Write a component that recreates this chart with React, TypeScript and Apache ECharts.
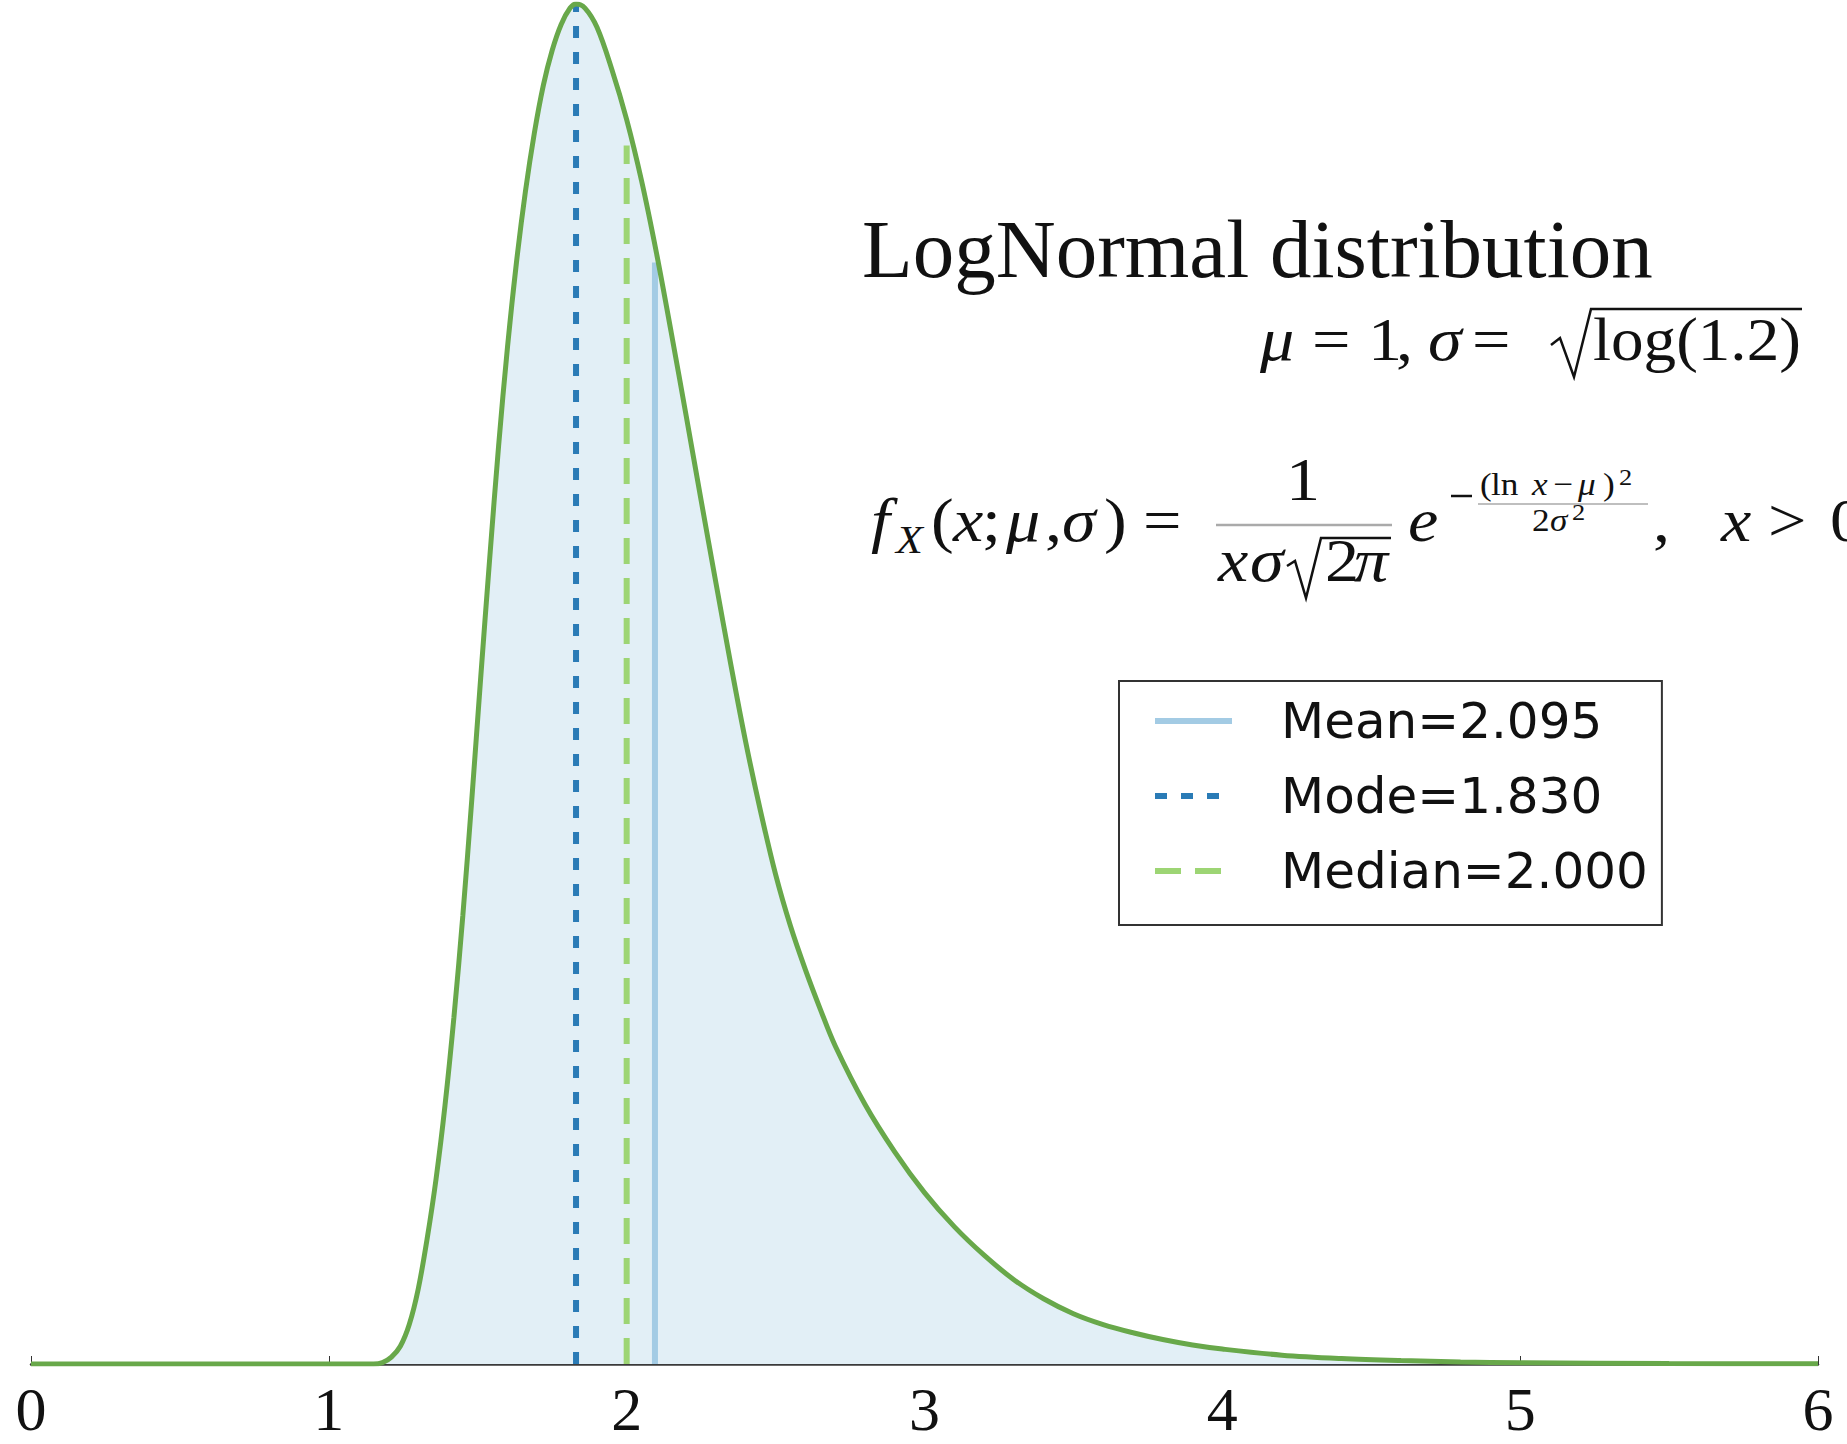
import React, { useEffect, useRef } from "react";
import * as echarts from "echarts";

// Density curve (relative height, peak = 1)
const densityX = [
  0, 0.5, 1.0, 1.1, 1.15, 1.18, 1.21, 1.24, 1.27, 1.3, 1.33, 1.36, 1.39, 1.42, 1.45, 1.48, 1.51,
  1.54, 1.57, 1.6, 1.63, 1.66, 1.69, 1.72, 1.75, 1.78, 1.81, 1.83, 1.86, 1.9, 1.95, 2.0, 2.05,
  2.1, 2.15, 2.2, 2.25, 2.3, 2.35, 2.4, 2.45, 2.5, 2.55, 2.6, 2.65, 2.7, 2.8, 2.9, 3.0, 3.1,
  3.2, 3.3, 3.4, 3.5, 3.6, 3.7, 3.8, 3.9, 4.0, 4.2, 4.4, 4.6, 4.8, 5.0, 5.5, 6.0,
];
const densityY = [
  0, 0, 0, 0, 0, 0.001, 0.005, 0.013, 0.029, 0.055, 0.092, 0.136, 0.19, 0.255, 0.33, 0.415, 0.505,
  0.592, 0.675, 0.748, 0.81, 0.862, 0.905, 0.94, 0.966, 0.985, 0.997, 1.0, 0.997, 0.983, 0.952,
  0.915, 0.87, 0.817, 0.758, 0.697, 0.635, 0.574, 0.514, 0.457, 0.406, 0.36, 0.322, 0.29, 0.261,
  0.234, 0.191, 0.156, 0.126, 0.101, 0.08, 0.062, 0.048, 0.037, 0.029, 0.023, 0.018, 0.014,
  0.011, 0.0065, 0.004, 0.0025, 0.0015, 0.0009, 0.0003, 0.0001,
];

const xTickLabels = ["0", "1", "2", "3", "4", "5", "6"];

const statNames = ["Mean=2.095", "Mode=1.830", "Median=2.000"];
const statX = [2.095, 1.83, 2.0];
const statTop = [0.81, 1.0, 0.896];

const statColors = ["#a3cbe4", "#2a7bb6", "#9dd574"];
const statDash: (number[] | "solid")[] = ["solid", [12, 14], [26, 14]];

const SERIF = "Liberation Serif";

function txt(
  text: string,
  x: number,
  baseline: number,
  size: number,
  italic = false,
  align: "left" | "center" | "right" = "left",
  sx = 1
) {
  const y = baseline - 0.3375 * size;
  return {
    type: "text",
    x,
    y,
    scaleX: sx,
    silent: true,
    style: {
      text,
      fontSize: size,
      fontFamily: SERIF,
      fontStyle: italic ? "italic" : "normal",
      fill: "#111",
      align,
      textAlign: align,
      verticalAlign: "middle",
      textVerticalAlign: "middle",
    },
  };
}

// math glyph helper (slightly widened, like the TeX font of the reference)
const m = (t: string, x: number, b: number, s: number, it = false, al: any = "left") =>
  txt(t, x, b, s, it, al, 1.1);

function seg(x1: number, y1: number, x2: number, y2: number, color: string, w: number) {
  return {
    type: "line",
    silent: true,
    shape: { x1, y1, x2, y2 },
    style: { stroke: color, lineWidth: w },
  };
}

function poly(points: number[][], color: string, w: number) {
  return {
    type: "polyline",
    silent: true,
    shape: { points },
    style: { stroke: color, lineWidth: w, fill: null },
  };
}

export default function App() {
  const ref = useRef<HTMLDivElement>(null);

  useEffect(() => {
    document.body.style.margin = "0";
    const chart = echarts.init(ref.current!, null, { renderer: "svg" });
    const curve = densityX.map((x, i) => [x, densityY[i]]);

    const statSeries = statNames.map((name, i) => ({
      name,
      type: "line",
      data: [
        [statX[i], 0],
        [statX[i], statTop[i]],
      ],
      symbol: "none",
      z: 3,
      silent: true,
      lineStyle: { color: statColors[i], width: 6, type: statDash[i], cap: "butt" },
      itemStyle: { color: statColors[i] },
    }));

    const graphics: any[] = [
      // title
      txt("LogNormal distribution", 862, 277, 83),
      // parameters line
      m("μ", 1260, 360, 62, true),
      m("=", 1312, 360, 62),
      m("1", 1368, 360, 62),
      m(",", 1396, 360, 62),
      m("σ", 1428, 360, 62, true),
      m("=", 1472, 360, 62),
      poly(
        [
          [1551, 345],
          [1560, 338],
          [1574, 377],
          [1591, 309],
          [1802, 309],
        ],
        "#111",
        2.5
      ),
      txt("log(1.2)", 1593, 360, 62, false, "left", 1.05),
      // density formula
      m("f", 871, 541, 62, true),
      m("X", 896, 553, 40, true),
      m("(", 931, 541, 62),
      m("x", 953, 541, 62, true),
      m(";", 982, 541, 62),
      m("μ", 1006, 541, 62, true),
      m(",", 1045, 541, 62),
      m("σ", 1062, 541, 62, true),
      m(")", 1104, 541, 62),
      m("=", 1143, 541, 62),
      m("1", 1303, 500, 62, false, "center"),
      seg(1216, 525, 1392, 525, "#aaa", 2.5),
      m("x", 1218, 581, 62, true),
      m("σ", 1250, 581, 62, true),
      poly(
        [
          [1287, 566],
          [1295, 561],
          [1306, 598],
          [1321, 538],
          [1391, 538],
        ],
        "#111",
        2.5
      ),
      m("2", 1325, 581, 62),
      m("π", 1354, 581, 62, true),
      m("e", 1408, 541, 62, true),
      seg(1451, 496, 1472, 496, "#111", 2.5),
      m("(", 1480, 495, 32),
      m("ln", 1491, 495, 32),
      m("x", 1532, 495, 32, true),
      m("−", 1553, 495, 32),
      m("μ", 1578, 495, 32, true),
      m(")", 1603, 495, 32),
      m("2", 1619, 485, 24),
      seg(1478, 504, 1648, 504, "#aaa", 1.5),
      m("2", 1532, 531, 32),
      m("σ", 1550, 531, 32, true),
      m("2", 1572, 520, 24),
      m(",", 1653, 541, 62),
      m("x", 1721, 541, 62, true),
      m(">", 1768, 541, 62),
      m("0", 1830, 541, 62),
    ];

    const option: any = {
      animation: false,
      backgroundColor: "#fff",
      grid: { left: 31, right: 29, top: 4, bottom: 80, outerBoundsMode: "none", containLabel: false },
      xAxis: {
        type: "value",
        min: 0,
        max: 6,
        interval: 1,
        axisLine: { show: true, onZero: false, lineStyle: { color: "#3a3a3a", width: 2.5 } },
        axisTick: { show: true, inside: true, length: 8, lineStyle: { color: "#333", width: 1 } },
        splitLine: { show: false },
        axisLabel: {
          margin: 20,
          fontSize: 62,
          lineHeight: 50,
          fontFamily: SERIF,
          color: "#111",
          formatter: (v: number) => xTickLabels[Math.round(v)] ?? "",
        },
      },
      yAxis: { type: "value", min: 0, max: 1.0, show: false },
      legend: {
        data: statNames,
        orient: "vertical",
        left: 1119,
        top: 681,
        backgroundColor: "#fff",
        borderColor: "#333",
        borderWidth: 2,
        borderRadius: 0,
        padding: [15, 14, 29, 33],
        itemWidth: 77,
        itemHeight: 50,
        itemGap: 25,
        selectedMode: false,
        itemStyle: { opacity: 0, borderWidth: 0 },
        lineStyle: { width: 6 },
        textStyle: {
          fontFamily: "DejaVu Sans",
          fontSize: 50,
          lineHeight: 50,
          color: "#111",
          padding: [0, 0, 0, 44],
        },
      },
      series: [
        {
          name: "fill",
          type: "line",
          data: curve,
          symbol: "none",
          smooth: 0.35,
          z: 1,
          silent: true,
          lineStyle: { width: 0, opacity: 0 },
          areaStyle: { color: "#e2eff6", opacity: 1 },
        },
        ...statSeries,
        {
          name: "pdf",
          type: "line",
          data: curve,
          symbol: "none",
          smooth: 0.35,
          z: 5,
          silent: true,
          lineStyle: { color: "#68a84a", width: 5 },
        },
      ],
      graphic: graphics,
    };

    chart.setOption(option);
    return () => chart.dispose();
  }, []);

  return <div ref={ref} style={{ width: 1847, height: 1444 }} />;
}
